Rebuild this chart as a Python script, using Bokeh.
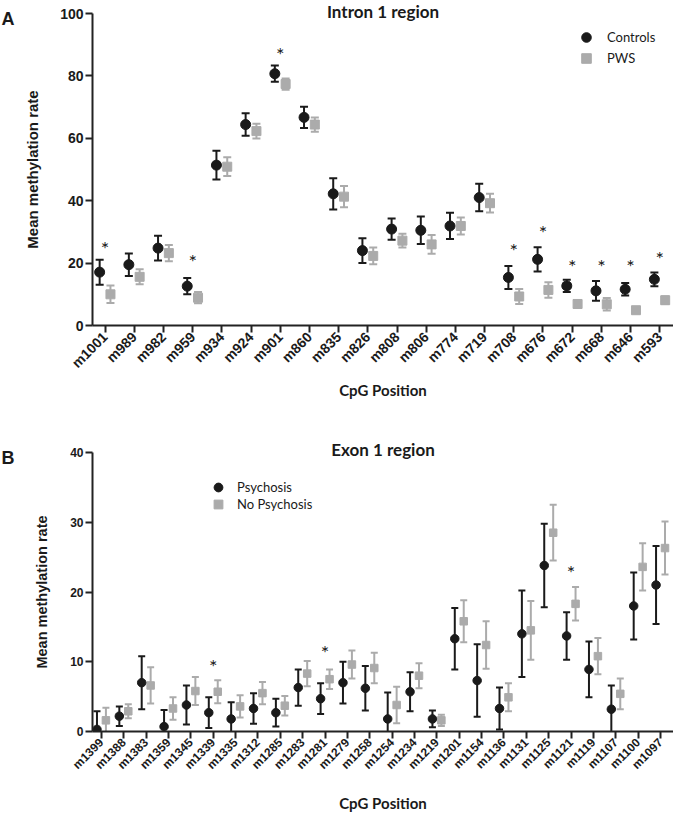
import numpy as np
from bokeh.plotting import figure
from bokeh.models import Range1d, FixedTicker, Label, Legend, LegendItem, ColumnDataSource, Title
from bokeh.layouts import column, row
from bokeh.transform import dodge
from bokeh.embed import file_html
from bokeh.resources import INLINE
from bokeh.core.properties import value

# ---------------- Panel A data: Intron 1 region ----------------
a_sites = ["m1001", "m989", "m982", "m959", "m934", "m924", "m901", "m860", "m835", "m826",
           "m808", "m806", "m774", "m719", "m708", "m676", "m672", "m668", "m646", "m593"]
a_ctrl_mean = [17.1, 19.5, 24.8, 12.6, 51.4, 64.4, 80.7, 66.7, 42.2, 24.0,
               30.9, 30.5, 31.9, 41.0, 15.4, 21.2, 12.7, 11.1, 11.6, 14.8]
a_ctrl_err = [4.0, 3.6, 4.0, 2.6, 4.6, 3.6, 2.6, 3.4, 5.0, 4.0,
              3.4, 4.4, 4.2, 4.4, 3.7, 3.9, 2.0, 3.2, 2.0, 2.2]
a_pws_mean = [10.0, 15.6, 23.2, 8.9, 50.9, 62.3, 77.4, 64.4, 41.3, 22.3,
              27.2, 26.0, 31.9, 39.2, 9.3, 11.4, 6.9, 6.8, 4.9, 8.1]
a_pws_err = [2.8, 2.4, 2.6, 1.8, 3.0, 2.4, 1.8, 2.3, 3.4, 2.7,
             2.2, 3.0, 2.7, 3.0, 2.4, 2.5, 1.2, 2.0, 1.0, 1.2]
a_star_sites = ["m1001", "m959", "m901", "m708", "m676", "m672", "m668", "m646", "m593"]
a_star_y = [26.0, 22.0, 88.4, 25.6, 31.2, 20.2, 20.2, 20.2, 23.0]
a_groups = ["Controls", "PWS"]
a_yticks = [0, 20, 40, 60, 80, 100]

# ---------------- Panel B data: Exon 1 region ----------------
b_sites = ["m1399", "m1388", "m1383", "m1359", "m1345", "m1339", "m1335", "m1312", "m1285",
           "m1283", "m1281", "m1279", "m1258", "m1254", "m1234", "m1219", "m1201", "m1154",
           "m1136", "m1131", "m1125", "m1121", "m1119", "m1107", "m1100", "m1097"]
b_psy_mean = [0.3, 2.2, 7.0, 0.7, 3.8, 2.7, 1.8, 3.3, 2.7, 6.3, 4.7, 7.0, 6.2, 1.8, 5.7, 1.8,
              13.3, 7.3, 3.3, 14.0, 23.8, 13.7, 8.9, 3.2, 18.0, 21.0]
b_psy_err = [2.6, 1.4, 3.8, 2.4, 2.8, 2.2, 2.4, 2.2, 2.0, 2.6, 2.2, 3.0, 3.2, 3.8, 2.8, 1.2,
             4.4, 5.2, 3.0, 6.2, 6.0, 3.4, 4.0, 3.4, 4.8, 5.6]
b_nopsy_mean = [1.6, 2.9, 6.6, 3.3, 5.8, 5.7, 3.6, 5.5, 3.7, 8.3, 7.5, 9.6, 9.1, 3.8, 8.0, 1.6,
                15.8, 12.4, 4.9, 14.5, 28.5, 18.3, 10.8, 5.4, 23.6, 26.3]
b_nopsy_err = [1.8, 1.0, 2.6, 1.6, 2.0, 1.65, 1.6, 1.6, 1.4, 1.8, 1.4, 2.0, 2.2, 2.6, 1.8, 0.8,
               3.0, 3.4, 2.0, 4.2, 4.0, 2.4, 2.6, 2.2, 3.4, 3.8]
b_star_sites = ["m1339", "m1281", "m1121"]
b_star_y = [10.0, 12.0, 23.4]
b_groups = ["Psychosis", "No Psychosis"]
b_yticks = [0, 10, 20, 30, 40]

BLACK = "#1a1a1a"
GREY = "#ababab"
TXT = "#1a1a1a"
LETTER_W = 16
TOTAL_W = 673


def make_panel(sites, m1, e1, m2, e2, star_sites, star_y, groups, yticks, title, cfg):
    n = len(sites)
    W = TOTAL_W - LETTER_W
    p = figure(width=W, height=cfg["height"], title=None,
               x_range=Range1d(cfg["x0"], n - 1 + cfg["x1"]),
               y_range=Range1d(0, yticks[-1]),
               output_backend="svg", toolbar_location=None,
               min_border_left=cfg["mbl"], min_border_right=0,
               min_border_top=cfg["mbt"], min_border_bottom=cfg["mbb"])
    p.outline_line_color = None
    p.xgrid.visible = False
    p.ygrid.visible = False

    m1 = np.array(m1); e1 = np.array(e1); m2 = np.array(m2); e2 = np.array(e2)
    src = ColumnDataSource(dict(x=np.arange(n), m1=m1, lo1=m1 - e1, hi1=m1 + e1,
                                m2=m2, lo2=m2 - e2, hi2=m2 + e2))
    off = cfg["off"]
    xd1 = dodge("x", -off)
    xd2 = dodge("x", off)
    lw = cfg["lw"]
    # error bars
    p.segment(x0=xd2, x1=xd2, y0="lo2", y1="hi2", source=src, line_color=GREY, line_width=lw)
    p.scatter(x=xd2, y="hi2", source=src, marker="dash", size=cfg["cap"], line_color=GREY, line_width=lw)
    p.scatter(x=xd2, y="lo2", source=src, marker="dash", size=cfg["cap"], line_color=GREY, line_width=lw)
    p.segment(x0=xd1, x1=xd1, y0="lo1", y1="hi1", source=src, line_color=BLACK, line_width=lw)
    p.scatter(x=xd1, y="hi1", source=src, marker="dash", size=cfg["cap"], line_color=BLACK, line_width=lw)
    p.scatter(x=xd1, y="lo1", source=src, marker="dash", size=cfg["cap"], line_color=BLACK, line_width=lw)
    # points
    r_sq = p.scatter(x=xd2, y="m2", source=src, marker="square", size=cfg["sq"],
                     fill_color=GREY, line_color=GREY)
    r_dot = p.scatter(x=xd1, y="m1", source=src, marker="circle", size=cfg["dot"],
                      fill_color=BLACK, line_color=BLACK)

    # significance stars
    sx = [sites.index(s) for s in star_sites]
    p.text(x=sx, y=star_y, text=["*"] * len(sx), text_font=value("Lato"),
           text_font_size=value(cfg["star_fs"]), text_align="center", text_baseline="middle",
           y_offset=cfg["star_dy"], text_color=TXT)

    # axes
    xa = p.xaxis[0]
    xa.ticker = FixedTicker(ticks=list(range(n)))
    xa.major_label_overrides = {i: s for i, s in enumerate(sites)}
    xa.major_label_orientation = np.pi / 4
    xa.major_label_text_font = "Liberation Sans"
    xa.major_label_text_font_style = "bold"
    xa.major_label_text_font_size = cfg["xfs"]
    xa.major_label_text_color = TXT
    xa.major_label_standoff = 2
    xa.axis_label = "CpG Position"
    xa.axis_label_text_font = "Lato"
    xa.axis_label_text_font_style = "bold"
    xa.axis_label_text_font_size = "15px"
    xa.axis_label_text_color = TXT
    xa.axis_label_standoff = cfg["xlab_so"]
    ya = p.yaxis[0]
    ya.ticker = FixedTicker(ticks=yticks)
    ya.major_label_text_font = "Liberation Sans"
    ya.major_label_text_font_style = "bold"
    ya.major_label_text_font_size = cfg["yfs"]
    ya.major_label_text_color = TXT
    ya.major_label_standoff = 2
    ya.axis_label = "Mean methylation rate"
    ya.axis_label_text_font = "Liberation Sans"
    ya.axis_label_text_font_style = "bold"
    ya.axis_label_text_font_size = cfg["ylab_fs"]
    ya.axis_label_text_color = TXT
    ya.axis_label_standoff = cfg["ylab_so"]
    for ax in (xa, ya):
        ax.axis_line_width = 2
        ax.axis_line_color = "#222222"
        ax.major_tick_line_width = 2
        ax.major_tick_line_color = "#222222"
        ax.major_tick_out = 7
        ax.major_tick_in = 0
        ax.minor_tick_line_color = None

    # panel title (overlapping the top of the frame)
    p.add_layout(Title(text=title, align="center", text_font="Lato", text_font_style="bold",
                       text_font_size="17px", text_color=TXT, standoff=cfg["title_so"]), "above")

    # legends (one per row so that rows can be placed as in the original)
    lg = cfg["lg"]
    for r, name, vy in ((r_dot, groups[0], lg["vy1"]), (r_sq, groups[1], lg["vy2"])):
        legend = Legend(items=[LegendItem(label=name, renderers=[r])],
                        location=(lg["vx"], vy), orientation="vertical",
                        glyph_width=lg["g"], glyph_height=lg["g"],
                        padding=0, margin=0, border_line_color=None, background_fill_alpha=0,
                        label_text_font="Lato", label_text_font_size="13px",
                        label_standoff=lg["so"], label_text_color=TXT)
        p.add_layout(legend)
    return p


cfgA = dict(height=401, mbl=70, mbt=13, mbb=70, x0=-0.43, x1=0.47, off=0.185, lw=2,
            cap=8, dot=10, sq=9, star_fs="20px", star_dy=4, xfs="14px", yfs="14px",
            ylab_fs="15px", ylab_so=16, xlab_so=1, title_so=-16,
            lg=dict(vx=482, vy1=276, vy2=255, g=24, so=9))
cfgB = dict(height=413, mbl=76, mbt=51, mbb=77, x0=-0.40, x1=0.58, off=0.2, lw=2,
            cap=7, dot=8.5, sq=7.5, star_fs="20px", star_dy=4, xfs="12px", yfs="12px",
            ylab_fs="14.5px", ylab_so=17, xlab_so=14, title_so=-14,
            lg=dict(vx=115, vy1=233, vy2=216, g=22, so=8))

pA = make_panel(a_sites, a_ctrl_mean, a_ctrl_err, a_pws_mean, a_pws_err, a_star_sites, a_star_y,
                a_groups, a_yticks, "Intron 1 region", cfgA)
pB = make_panel(b_sites, b_psy_mean, b_psy_err, b_nopsy_mean, b_nopsy_err, b_star_sites, b_star_y,
                b_groups, b_yticks, "Exon 1 region", cfgB)

# narrow strip holding the panel letters
H = cfgA["height"] + cfgB["height"]
letters = figure(width=LETTER_W, height=H, x_range=Range1d(0, 1), y_range=Range1d(0, 1),
                 x_axis_type=None, y_axis_type=None, output_backend="svg", toolbar_location=None,
                 min_border=0, title=None)
letters.outline_line_color = None
letters.xgrid.visible = False
letters.ygrid.visible = False
for txt, base_from_top in (("A", 18), ("B", 457)):
    letters.add_layout(Label(x=1, y=H - base_from_top, x_units="screen", y_units="screen",
                             text=txt, text_align="left", text_baseline="alphabetic",
                             text_font="Liberation Sans", text_font_style="bold",
                             text_font_size="18px", text_color=TXT))

layout = row(letters, column(pA, pB, spacing=0), spacing=0)
open("out.html", "w").write(file_html(layout, INLINE))
